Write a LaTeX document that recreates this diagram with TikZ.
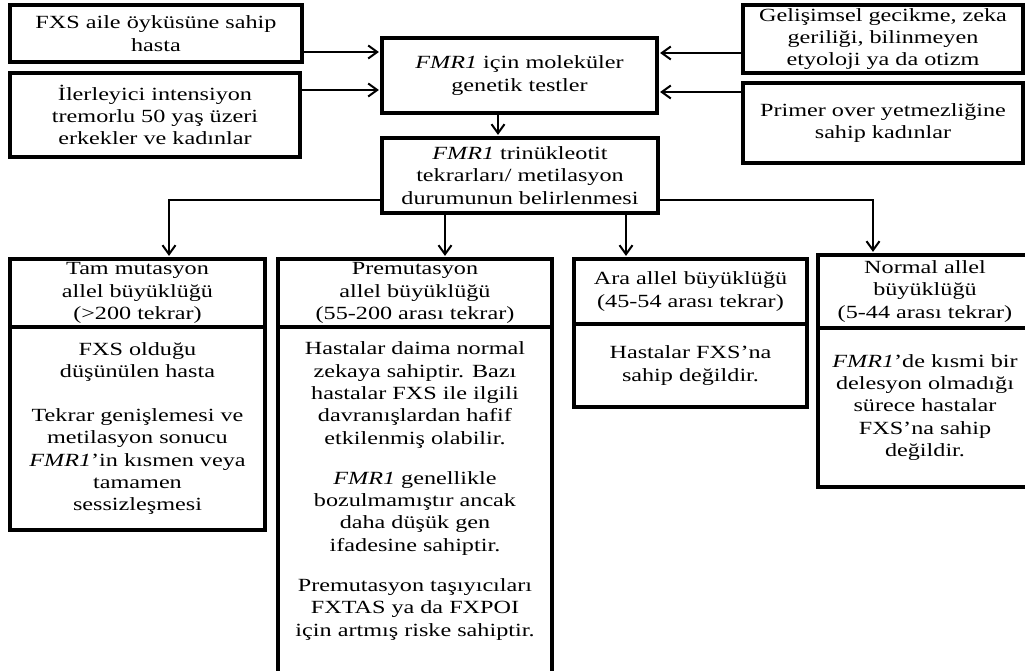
\documentclass[tikz,border=0pt]{standalone}
\usepackage{fontspec}
\setmainfont[FakeStretch=1.3]{Liberation Serif}
\usetikzlibrary{arrows.meta}
\begin{document}
\begin{tikzpicture}[x=1pt,y=1pt,
  box/.style={draw=black,line width=3.2pt,rectangle,inner sep=0pt,align=center,
    font=\fontsize{18.6}{22.3}\selectfont},
  txt/.style={inner sep=0pt,align=center,font=\fontsize{18.6}{22.3}\selectfont},
  arr/.style={line width=2pt,-{Straight Barb[length=9pt,width=13pt,line width=2pt]},shorten >=1.5pt}]
\clip (0,0) rectangle (1025,-671);
\fill[white] (0,0) rectangle (1025,-671);
% top row
\node[box,minimum width=292,minimum height=57] (A) at (156,-33.5) {FXS aile öyküsüne sahip\\hasta};
\node[box,minimum width=290,minimum height=84] (B) at (155,-115) {İlerleyici intensiyon\\tremorlu 50 yaş üzeri\\erkekler ve kadınlar};
\node[box,minimum width=275,minimum height=75] (C) at (519.5,-75.5) {\textit{FMR1} için moleküler\\genetik testler};
\node[box,minimum width=276,minimum height=75] (D) at (520,-175.5) {\textit{FMR1} trinükleotit\\tekrarları/ metilasyon\\durumunun belirlenmesi};
\node[box,minimum width=280,minimum height=68] (E) at (883,-39) {Gelişimsel gecikme, zeka\\geriliği, bilinmeyen\\etyoloji ya da otizm};
\node[box,minimum width=280,minimum height=80] (F) at (883,-123) {Primer over yetmezliğine\\sahip kadınlar};
% bottom row
\node[box,minimum width=255,minimum height=68] (Tamh) at (137.5,-293) {Tam mutasyon\\allel büyüklüğü\\(>200 tekrar)};
\node[box,minimum width=255,minimum height=203] (Tamb) at (137.5,-428.5) {FXS olduğu\\düşünülen hasta\\[22pt]Tekrar genişlemesi ve\\metilasyon sonucu\\\textit{FMR1}’in kısmen veya\\tamamen\\sessizleşmesi};
\node[box,minimum width=274,minimum height=68] (Premh) at (415,-293) {Premutasyon\\allel büyüklüğü\\(55-200 arası tekrar)};
\node[box,minimum width=274,minimum height=373] (Premb) at (415,-513.5) {};
\node[txt] (Premt) at (415,-491) {Hastalar daima normal\\zekaya sahiptir. Bazı\\hastalar FXS ile ilgili\\davranışlardan hafif\\etkilenmiş olabilir.\\[18pt]\textit{FMR1} genellikle\\bozulmamıştır ancak\\daha düşük gen\\ifadesine sahiptir.\\[18pt]Premutasyon taşıyıcıları\\FXTAS ya da FXPOI\\için artmış riske sahiptir.};
\node[box,minimum width=233,minimum height=65] (Arah) at (690.5,-291.5) {Ara allel büyüklüğü\\(45-54 arası tekrar)};
\node[box,minimum width=233,minimum height=83] (Arab) at (690.5,-365.5) {Hastalar FXS’na\\sahip değildir.};
\node[box,minimum width=214,minimum height=73] (Normh) at (925,-291.5) {Normal allel\\büyüklüğü\\(5-44 arası tekrar)};
\node[box,minimum width=214,minimum height=159] (Normb) at (925,-407.5) {\textit{FMR1}’de kısmi bir\\delesyon olmadığı\\sürece hastalar\\FXS’na sahip\\değildir.};
% connectors
\draw[arr] (A.east |- 0,-52) -- (C.west |- 0,-52);
\draw[arr] (B.east |- 0,-90) -- (C.west |- 0,-90);
\draw[arr] (E.west |- 0,-53) -- (C.east |- 0,-53);
\draw[arr] (F.west |- 0,-92) -- (C.east |- 0,-92);
\draw[arr] (C.south -| 498,0) -- (D.north -| 498,0);
\draw[arr] (D.west |- 0,-200) -| (Tamh.north -| 169,0);
\draw[arr] (D.south -| 445,0) -- (Premh.north -| 445,0);
\draw[arr] (D.south -| 626,0) -- (Arah.north -| 626,0);
\draw[arr] (D.east |- 0,-200) -| (Normh.north -| 873,0);
\end{tikzpicture}
\end{document}
